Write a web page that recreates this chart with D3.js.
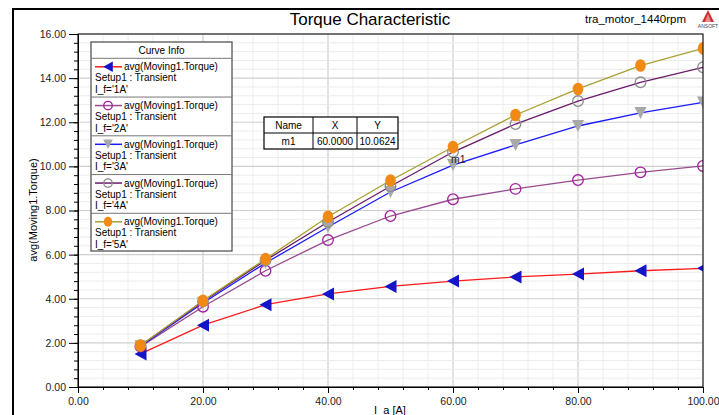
<!DOCTYPE html>
<html><head><meta charset="utf-8">
<script src="https://cdn.jsdelivr.net/npm/d3@7"></script>
<style>
body{margin:0;background:#fff;}
text{font-family:"Liberation Sans",Arial,sans-serif;}
</style></head>
<body><svg id="c" width="719" height="415"></svg>
<script>
const xVals = [10,20,30,40,50,60,70,80,90,100];
const torque1A = [1.50, 2.80, 3.73, 4.22, 4.56, 4.80, 4.99, 5.12, 5.27, 5.38];
const torque2A = [1.83, 3.64, 5.27, 6.66, 7.75, 8.51, 8.98, 9.38, 9.73, 10.02];
const torque3A = [1.85, 3.81, 5.62, 7.25, 8.84, 10.06, 10.97, 11.83, 12.42, 12.90];
const torque4A = [1.88, 3.88, 5.74, 7.48, 9.10, 10.65, 11.92, 12.96, 13.81, 14.49];
const torque5A = [1.88, 3.91, 5.80, 7.72, 9.36, 10.88, 12.33, 13.51, 14.57, 15.35];
const seriesNames = ["1A","2A","3A","4A","5A"];
const xTicks = [0,20,40,60,80,100];
const yTicks = [0,2,4,6,8,10,12,14,16];
const markerName = "m1", markerX = 60.0, markerY = 10.0624;

const svg = d3.select("#c");
const L=78,R=703,T=34,B=387;
const x = d3.scaleLinear().domain([0,100]).range([L,R]);
const y = d3.scaleLinear().domain([0,16]).range([B,T]);

svg.append("defs").append("clipPath").attr("id","pc").append("rect")
  .attr("x",L).attr("y",T).attr("width",R-L).attr("height",B-T);

// outer frame
svg.append("line").attr("x1",13).attr("x2",719).attr("y1",9).attr("y2",9).attr("stroke","#000").attr("stroke-width",2);
svg.append("line").attr("x1",13).attr("x2",13).attr("y1",8).attr("y2",415).attr("stroke","#000").attr("stroke-width",2);

// grid
const g = svg.append("g");
d3.range(0,100.01,4).forEach(v=>{
  const major = v%20===0;
  g.append("line").attr("x1",x(v)).attr("x2",x(v)).attr("y1",T).attr("y2",B)
   .attr("stroke",major?"#cfcfcf":"#ececec").attr("stroke-width",major?1.2:1);
});
d3.range(0,16.01,0.4).forEach(v=>{
  const major = Math.abs(v/2-Math.round(v/2))<1e-6;
  g.append("line").attr("x1",L).attr("x2",R).attr("y1",y(v)).attr("y2",y(v))
   .attr("stroke",major?"#cfcfcf":"#ececec").attr("stroke-width",major?1.2:1);
});

// axes
const xAxis = d3.axisBottom(x).tickValues(xTicks).tickFormat(d3.format(".2f")).tickSize(6).tickSizeOuter(0);
const xMinor = d3.axisBottom(x).tickValues(d3.range(0,100.01,4)).tickFormat("").tickSize(3).tickSizeOuter(0);
const yAxis = d3.axisLeft(y).tickValues(yTicks).tickFormat(d3.format(".2f")).tickSize(9).tickSizeOuter(0);
const yMinor = d3.axisLeft(y).tickValues(d3.range(0,16.01,0.4)).tickFormat("").tickSize(4).tickSizeOuter(0);
[xMinor,xAxis].forEach(a=>{
  const ga = svg.append("g").attr("transform",`translate(0,${B})`).call(a);
  ga.select(".domain").attr("stroke","#000");
  ga.selectAll("text").attr("font-size",10.5).attr("fill","#222").attr("dy","0.9em");
});
[yMinor,yAxis].forEach(a=>{
  const ga = svg.append("g").attr("transform",`translate(${L},0)`).call(a);
  ga.select(".domain").attr("stroke","#000");
  ga.selectAll("text").attr("font-size",10.5).attr("fill","#222").attr("x",-12);
});

// titles
svg.append("text").attr("x",370).attr("y",25).attr("text-anchor","middle").attr("font-size",17).text("Torque Characteristic");
svg.append("text").attr("x",585).attr("y",23).attr("font-size",11.5).text("tra_motor_1440rpm");
svg.append("text").attr("x",390).attr("y",414).attr("text-anchor","middle").attr("font-size",11).text("I_a [A]");
svg.append("text").attr("transform","translate(37,210) rotate(-90)").attr("text-anchor","middle").attr("font-size",11).text("avg(Moving1.Torque)");
// ansoft logo
const lg = svg.append("g").attr("transform","translate(708,15)");
lg.append("path").attr("d","M0,-5 L6,7 L-6,7 Z").attr("fill","#d23030");
lg.append("path").attr("d","M0,-1 L3,7 L-3,7 Z").attr("fill","#fff").attr("opacity",0.45);
lg.append("text").attr("x",0).attr("y",13).attr("text-anchor","middle").attr("font-size",5).attr("fill","#444").text("ANSOFT");

// series
const series = [
  {name:"1A", vals:torque1A, line:"#ff1a1a", sym:"triL", fill:"#1414c8", stroke:"#1414c8"},
  {name:"2A", vals:torque2A, line:"#9a4a8e", sym:"circ", fill:"none", stroke:"#a020a0"},
  {name:"3A", vals:torque3A, line:"#1a1aff", sym:"triD", fill:"#a8a8a8", stroke:"#a8a8a8"},
  {name:"4A", vals:torque4A, line:"#6a1a6a", sym:"circ", fill:"none", stroke:"#8c8c8c"},
  {name:"5A", vals:torque5A, line:"#a8a030", sym:"dot", fill:"#f08a14", stroke:"#f08a14"}
];
function drawSym(sel, s, cx, cy, k){
  k = k||1;
  if(s.sym==="triL") sel.append("path").attr("d",`M${cx-6*k},${cy} L${cx+6*k},${cy-6.5*k} L${cx+6*k},${cy+6.5*k} Z`).attr("fill",s.fill);
  else if(s.sym==="triD") sel.append("path").attr("d",`M${cx-6*k},${cy-6*k} L${cx+6*k},${cy-6*k} L${cx},${cy+6*k} Z`).attr("fill",s.fill);
  else if(s.sym==="circ") sel.append("circle").attr("cx",cx).attr("cy",cy).attr("r",5.3*k).attr("fill","none").attr("stroke",s.stroke).attr("stroke-width",1.3);
  else sel.append("ellipse").attr("cx",cx).attr("cy",cy).attr("rx",5.3*k).attr("ry",6.3*k).attr("fill",s.fill);
}
const plot = svg.append("g").attr("clip-path","url(#pc)");
const line = d3.line().x((d,i)=>x(xVals[i])).y(d=>y(d));
series.forEach(s=>{
  plot.append("path").attr("d",line(s.vals)).attr("fill","none").attr("stroke",s.line).attr("stroke-width",1.3);
});
series.forEach(s=>{
  s.vals.forEach((v,i)=>drawSym(plot,s,x(xVals[i]),y(v)));
});
svg.append("rect").attr("x",L).attr("y",T).attr("width",R-L).attr("height",B-T)
  .attr("fill","none").attr("stroke","#000").attr("stroke-width",1);
svg.append("text").attr("x",x(markerX)-2).attr("y",y(markerY)-2).attr("font-size",10.5).attr("fill","#222").text(markerName);

// legend
const lgx=91, lgy=42, lgw=141, lgh=209;
const leg = svg.append("g");
leg.append("rect").attr("x",lgx).attr("y",lgy).attr("width",lgw).attr("height",lgh).attr("fill","#fff").attr("stroke","#555").attr("stroke-width",1.3);
leg.append("text").attr("x",lgx+lgw/2).attr("y",54).attr("text-anchor","middle").attr("font-size",10).text("Curve Info");
series.forEach((s,i)=>{
  const top = 58.3 + i*38.75;
  leg.append("line").attr("x1",lgx).attr("x2",lgx+lgw).attr("y1",top).attr("y2",top).attr("stroke","#777");
  const ly = top+8.5;
  leg.append("line").attr("x1",95).attr("x2",122).attr("y1",ly).attr("y2",ly).attr("stroke",s.line).attr("stroke-width",1.5);
  drawSym(leg,s,108,ly,0.8);
  leg.append("text").attr("x",124).attr("y",ly+3.5).attr("font-size",10).text("avg(Moving1.Torque)");
  leg.append("text").attr("x",95).attr("y",ly+14.5).attr("font-size",10).text("Setup1 : Transient");
  leg.append("text").attr("x",95).attr("y",ly+26).attr("font-size",10).text(`I_f='${s.name}'`);
});

// marker table
const tb = svg.append("g");
const tx=264, ty=117, cols=[264,313,357,398], rh=16;
tb.append("rect").attr("x",tx).attr("y",ty).attr("width",134).attr("height",32).attr("fill","#fff").attr("stroke","#000").attr("stroke-width",1.2);
tb.append("line").attr("x1",tx).attr("x2",398).attr("y1",ty+rh).attr("y2",ty+rh).attr("stroke","#000");
[313,357].forEach(c=>tb.append("line").attr("x1",c).attr("x2",c).attr("y1",ty).attr("y2",ty+32).attr("stroke","#000"));
const rows=[["Name","X","Y"],[markerName,markerX.toFixed(4),markerY.toFixed(4)]];
rows.forEach((r,ri)=>r.forEach((t,ci)=>{
  tb.append("text").attr("x",(cols[ci]+cols[ci+1])/2).attr("y",ty+rh*ri+12).attr("text-anchor","middle").attr("font-size",10).text(t);
}));
</script></body></html>
